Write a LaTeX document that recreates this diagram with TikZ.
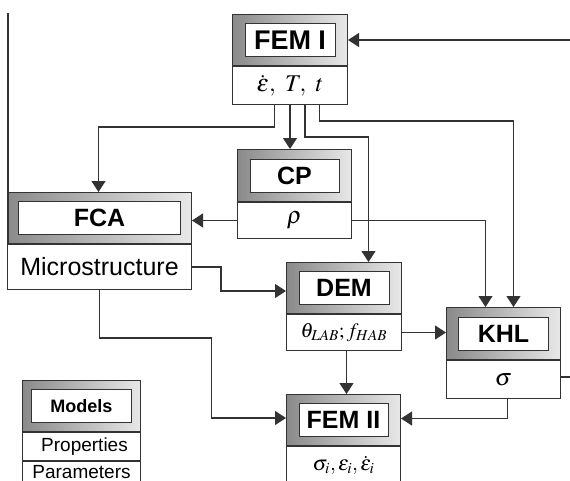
\documentclass[tikz,border=0pt]{standalone}
\usepackage{mathptmx}
\usepackage[no-math]{fontspec}
\setmainfont{Liberation Sans}
\usetikzlibrary{arrows.meta,calc}
\definecolor{hdrL}{HTML}{8A8A8A}
\definecolor{hdrR}{HTML}{E8E8E8}
\definecolor{edge}{HTML}{333333}
\tikzset{
  hdr/.style={draw=edge, line width=1pt, left color=hdrL, right color=hdrR, anchor=north west, inner sep=0pt},
  inbox/.style={draw=edge, fill=white, line width=0.9pt, inner sep=0pt, minimum height=33pt, font=\bfseries\fontsize{25}{25}\selectfont},
  low/.style={draw=edge, fill=white, line width=1pt, anchor=north west, inner sep=0pt},
  arr/.style={draw=edge, line width=1.2pt, -{Triangle[width=14pt,length=11pt]}},
  ln/.style={draw=edge, line width=1.2pt},
  mth/.style={font=\fontsize{24}{24}\selectfont},
}
\begin{document}
\begin{tikzpicture}[x=1pt,y=-1pt]
\useasboundingbox (0,0) rectangle (570,480);
% FEM I
\node[hdr, minimum width=115pt, minimum height=51pt] (fem1h) at (232,14) {};
\node[inbox, minimum width=90pt, font=\bfseries\fontsize{27}{27}\selectfont] (fem1t) at (fem1h.center) {FEM I};
\node[low, minimum width=115pt, minimum height=38pt, mth] (fem1l) at (fem1h.south west) {$\dot{\varepsilon},\ T,\ t$};
% CP
\node[hdr, minimum width=114pt, minimum height=52pt] (cph) at (237,149) {};
\node[inbox, minimum width=89pt] (cpt) at (cph.center) {CP};
\node[low, minimum width=114pt, minimum height=36pt, mth] (cpl) at (cph.south west) {$\rho$};
% FCA
\node[hdr, minimum width=184pt, minimum height=51pt] (fcah) at (7,192) {};
\node[inbox, minimum width=162pt] (fcat) at (fcah.center) {FCA};
\node[low, minimum width=184pt, minimum height=45pt, font=\fontsize{25}{25}\selectfont] (fcal) at (fcah.south west) {Microstructure};
% DEM
\node[hdr, minimum width=115pt, minimum height=51pt] (demh) at (286,262) {};
\node[inbox, minimum width=90pt] (demt) at (demh.center) {DEM};
\node[low, minimum width=115pt, minimum height=36pt, font=\fontsize{20.5}{20.5}\selectfont] (deml) at (demh.south west) {$\theta_{LAB};f_{HAB}$};
% KHL
\node[hdr, minimum width=114pt, minimum height=52pt] (khlh) at (446,307) {};
\node[inbox, minimum width=90pt] (khlt) at (khlh.center) {KHL};
\node[low, minimum width=114pt, minimum height=38pt, mth] (khll) at (khlh.south west) {$\sigma$};
% FEM II
\node[hdr, minimum width=114pt, minimum height=51pt] (fem2h) at (286,394) {};
\node[inbox, minimum width=89pt] (fem2t) at (fem2h.center) {FEM II};
\node[low, minimum width=114pt, minimum height=38pt, font=\fontsize{21}{21}\selectfont] (fem2l) at (fem2h.south west) {$\sigma_i,\varepsilon_i,\dot{\varepsilon}_i$};
% Models legend
\node[hdr, minimum width=118pt, minimum height=51pt] (modh) at (22,380) {};
\node[inbox, minimum width=100pt, font=\bfseries\fontsize{18}{18}\selectfont] (modt) at (modh.center) {Models};
\node[low, minimum width=118pt, minimum height=28pt, font=\fontsize{19}{19}\selectfont] (modp) at (modh.south west) {\hspace{6pt}Properties};
\node[low, minimum width=118pt, minimum height=22pt, font=\fontsize{19}{19}\selectfont] (moda) at (modp.south west) {Parameters};
% free ends
\coordinate (inR) at (570,40);
\coordinate (outR) at (570,377);
\coordinate (lTop) at (8,13);
\coordinate (lBot) at (8,245);
% connectors
\draw[arr] (inR) -- (fem1h.east);
\draw[ln] (lTop) -- (lBot);
\draw[arr] ([xshift=-15.5pt]fem1l.south) -- ++(0,22) -| ([xshift=-1pt]fcah.north);
\draw[arr] (fem1l.south) -- (fem1l.south |- cph.north);
\draw[arr] ([xshift=15pt]fem1l.south) -- ++(0,32) -| ([xshift=24.5pt]demh.north);
\draw[arr] ([xshift=29.5pt]fem1l.south) -- ++(0,16) -| ([xshift=10pt]khlh.north);
\draw[arr] (cpl.east) -| ([xshift=-18pt]khlh.north);
\draw[arr] (cpl.west) -- (cpl.west -| fcah.east);
\draw[arr] (fcal.east) -- ++(29,0) |- ([yshift=-3pt]demh.west);
\draw[arr] (fcal.south) -- ++(0,48) -- ++(112,0) |- ([yshift=2pt]fem2h.west);
\draw[arr] (deml.east) -- (deml.east -| khlh.west);
\draw[arr] ([xshift=2.5pt]deml.south) -- ([xshift=2.5pt]deml.south |- fem2h.north);
\draw[arr] ([xshift=4pt]khll.south) |- ([yshift=1.5pt]fem2h.east);
\draw[ln] (khll.east |- outR) -- (outR);
\end{tikzpicture}
\end{document}
